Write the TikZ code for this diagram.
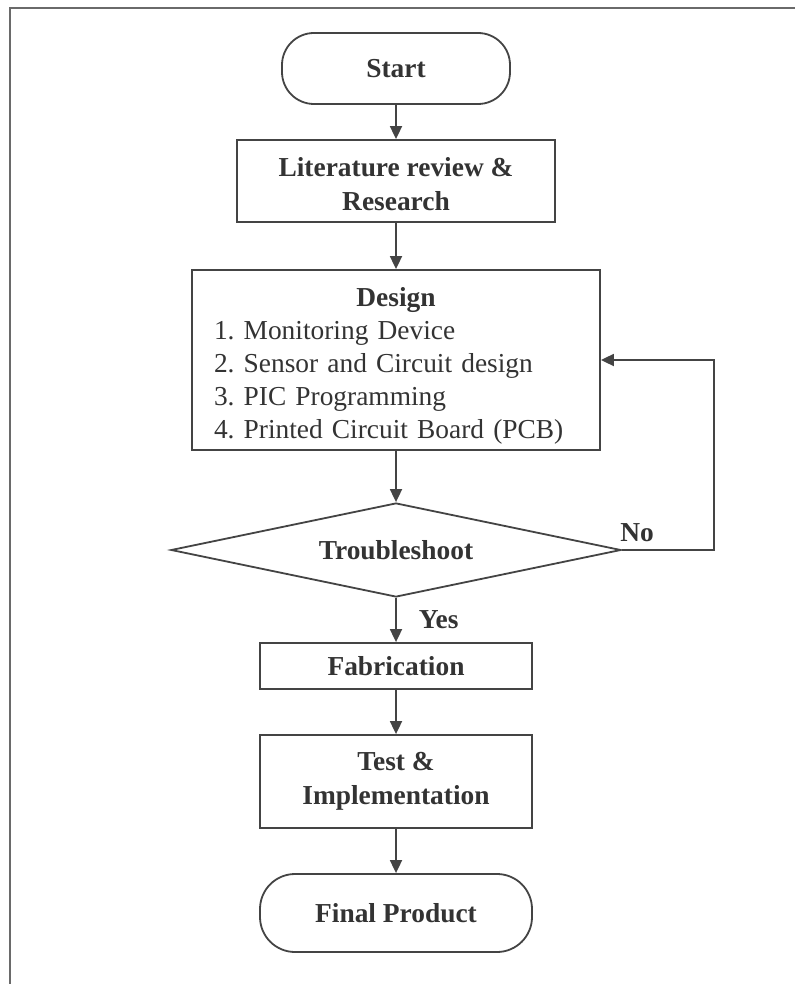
\documentclass[tikz,border=0pt]{standalone}
\usepackage{fontspec}
\setmainfont{Liberation Serif}
\frenchspacing
\usetikzlibrary{arrows.meta,positioning,shapes.geometric}
\def\wLine{0.9pt}
\newcommand{\chartsize}{\fontsize{13.7}{16.8}\selectfont}
\definecolor{cInk}{HTML}{333333}
\definecolor{cEdge}{HTML}{444444}
\definecolor{cFrame}{HTML}{6A6A6A}
\tikzset{
  chart/.style={text=cInk, every node/.style={align=center}},
  box/.style={draw=cEdge, line width=\wLine, fill=white, inner sep=2pt, font=\chartsize\bfseries},
  term/.style={box, minimum width=114pt},
  proc/.style={box, minimum width=136pt},
  decide/.style={box, diamond, aspect=4.8, inner sep=0pt, minimum width=225pt, minimum height=47pt},
  lbl/.style={font=\chartsize\bfseries, inner sep=1pt},
  flow/.style={draw=cEdge, line width=\wLine, -{Triangle[length=6.5pt, width=6pt]}},
}

\begin{document}
\begin{tikzpicture}[chart, x=0.5pt, y=-0.5pt]
% pixel grid of the 795 x 984 scan, y downwards
\useasboundingbox (0,0) rectangle (795,984);
\draw[cFrame, line width=1pt] (795,8) -- (10,8) -- (10,984);
\node[term, minimum height=35.5pt, rounded corners=16pt] (start) at (396,68.5) {Start};
\node[box, minimum width=159pt, minimum height=41pt] (lit) at (396,181) {\rule{0pt}{12.5pt}Literature review \&\\ Research};
\node[box, font=\fontsize{13.7}{16.5}\selectfont, minimum width=204pt, minimum height=90pt, inner xsep=11pt, text width=182pt, align=left] (design) at (396,360)
  {\rule{0pt}{15.8pt}\makebox[\linewidth][c]{\bfseries Design}\\ 1. Monitoring Device\\ 2. Sensor and Circuit design\\ 3. PIC Programming\\ 4. Printed Circuit Board (PCB)};
\node[decide] (trouble) at (396,550) {Troubleshoot};
\node[proc, minimum height=23pt] (fab) at (396,666) {Fabrication};
\node[proc, minimum height=46.5pt] (test) at (396,781.5) {Test \&\\ Implementation};
\node[term, minimum width=136pt, minimum height=39pt, rounded corners=17.5pt] (final) at (396,913) {Final Product};
\coordinate (back) at (714,360);
\draw[flow] (start) -- (lit);
\draw[flow] (lit) -- (design);
\draw[flow] (design) -- (trouble);
\draw[flow] (trouble) -- (fab) node[lbl, pos=0.5, right=10pt] {Yes};
\draw[flow] (fab) -- (test);
\draw[flow] (test) -- (final);
\draw[flow] (trouble.east) -| (back) -- (design.east);
\node[lbl, above right=3pt and -2pt of trouble.east] (no) {No};
\end{tikzpicture}
\end{document}
